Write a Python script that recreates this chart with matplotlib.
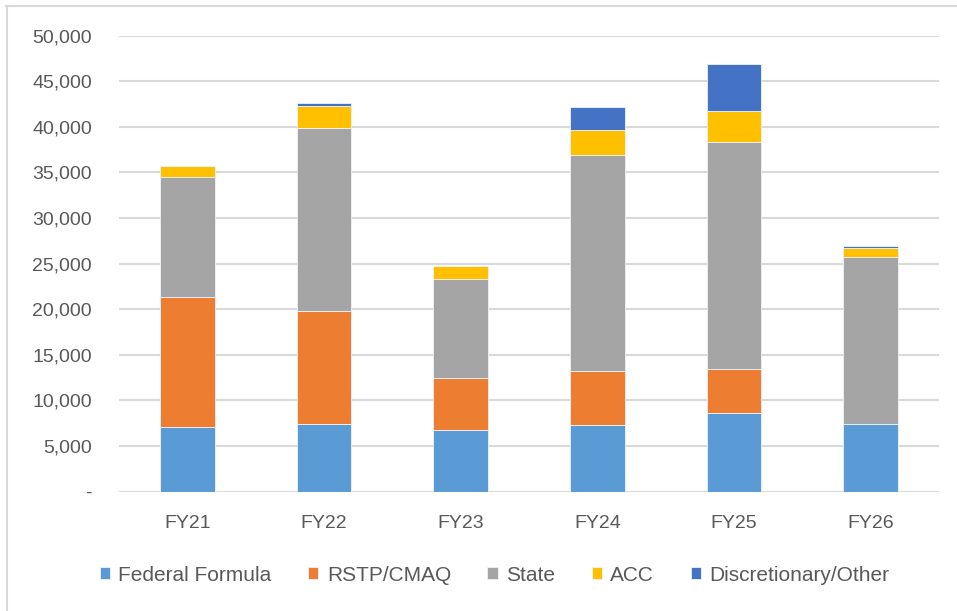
import matplotlib.pyplot as plt
from matplotlib.lines import Line2D
from matplotlib.ticker import FuncFormatter
import numpy as np

# funding by source and fiscal year ($ thousands)
years = ['FY21', 'FY22', 'FY23', 'FY24', 'FY25', 'FY26']
federal_formula = [7050, 7440, 6750, 7310, 8580, 7440]
rstp_cmaq = [14280, 12350, 5730, 5880, 4890, 0]
state = [13180, 20090, 10820, 23700, 24850, 18240]
acc = [1180, 2380, 1390, 2710, 3360, 990]
discretionary = [0, 300, 0, 2520, 5220, 280]

series = [
    ('Federal Formula', federal_formula, '#5B9BD5'),
    ('RSTP/CMAQ', rstp_cmaq, '#ED7D31'),
    ('State', state, '#A5A5A5'),
    ('ACC', acc, '#FFC000'),
    ('Discretionary/Other', discretionary, '#4472C4'),
]

plt.rcParams['font.family'] = ['Liberation Sans', 'DejaVu Sans']

fig = plt.figure(figsize=(9.57, 6.11), dpi=100)
ax = fig.add_axes([0.1243, 0.1954, 0.8569, 0.7463])

x = np.arange(len(years))
bottom = np.zeros(len(years))
for name, vals, col in series:
    vals = np.array(vals, dtype=float)
    ax.bar(x, vals, width=0.40, bottom=bottom, color=col, label=name,
           edgecolor='#EEF3FA', linewidth=0.6, zorder=3)
    bottom += vals

ax.set_xlim(-0.5, len(years) - 0.5)
ax.set_ylim(0, 50000)
ax.set_yticks(np.arange(0, 50001, 5000))
ax.yaxis.set_major_formatter(FuncFormatter(lambda v, p: '-' if v == 0 else f'{int(v):,}'))
ax.set_xticks(x)
ax.set_xticklabels(years)
ax.grid(axis='y', color='#D9D9D9', linewidth=1.5, zorder=0)
ax.tick_params(axis='both', length=0, labelsize=14, colors='#595959')
ax.tick_params(axis='y', pad=19.5)
ax.tick_params(axis='x', pad=17)
for s in ax.spines.values():
    s.set_visible(False)

ax.legend(loc='center', bbox_to_anchor=(0.458, -0.183), ncol=5, frameon=False,
          fontsize=15, labelcolor='#595959', handlelength=0.5, handleheight=0.5,
          handletextpad=0.4, columnspacing=1.75)

# outer chart frame (top and left edges)
fig.add_artist(Line2D([0.006, 1.0], [0.990, 0.990], color='#D9D9D9', linewidth=1.5))
fig.add_artist(Line2D([0.007, 0.007], [0.0, 0.990], color='#D9D9D9', linewidth=1.5))

fig.savefig('out.png', dpi=100)
